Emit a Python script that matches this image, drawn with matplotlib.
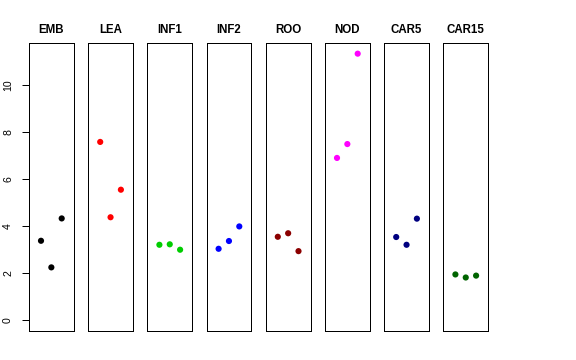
import matplotlib
matplotlib.use("Agg")
import matplotlib.pyplot as plt

# group names and colours
groups = ['EMB', 'LEA', 'INF1', 'INF2', 'ROO', 'NOD', 'CAR5', 'CAR15']
colors = ['black', 'red', '#00CD00', 'blue', '#8B0000', 'magenta', '#000080', '#006400']

# three replicates per group
emb = [3.38, 2.25, 4.33]
lea = [7.58, 4.38, 5.55]
inf1 = [3.21, 3.23, 3.00]
inf2 = [3.04, 3.37, 3.99]
roo = [3.55, 3.70, 2.94]
nod = [6.90, 7.49, 11.33]
car5 = [3.54, 3.21, 4.32]
car15 = [1.95, 1.82, 1.90]
values = [emb, lea, inf1, inf2, roo, nod, car5, car15]
reps = [1, 2, 3]

plt.rcParams['font.family'] = ['Liberation Sans', 'DejaVu Sans']

fig = plt.figure(figsize=(8, 5), dpi=72)

ymax = max(max(v) for v in values)
ypad = 0.04 * ymax
xpad = 0.04 * 4

for i, name in enumerate(groups):
    left = (29 + 59.2 * i) / 576
    ax = fig.add_axes([left, 1 - 331 / 360, 44.7 / 576, 288 / 360])
    ax.scatter(reps, values[i], s=38, color=colors[i], edgecolors='none', zorder=3)
    ax.set_xlim(0 - xpad, 4 + xpad)
    ax.set_ylim(0 - ypad, ymax + ypad)
    ax.set_xticks([])
    for sp in ax.spines.values():
        sp.set_linewidth(1)
        sp.set_color('black')
    ax.set_title(name, fontweight='bold', fontsize=11.5, pad=9.5)
    if i == 0:
        ax.set_yticks([0, 2, 4, 6, 8, 10])
        ax.tick_params(axis='y', length=7, width=1, pad=9, labelsize=10.5, labelrotation=90)
        for lab in ax.get_yticklabels():
            lab.set_va('center')
    else:
        ax.set_yticks([])

fig.savefig('out.png', dpi=72)
